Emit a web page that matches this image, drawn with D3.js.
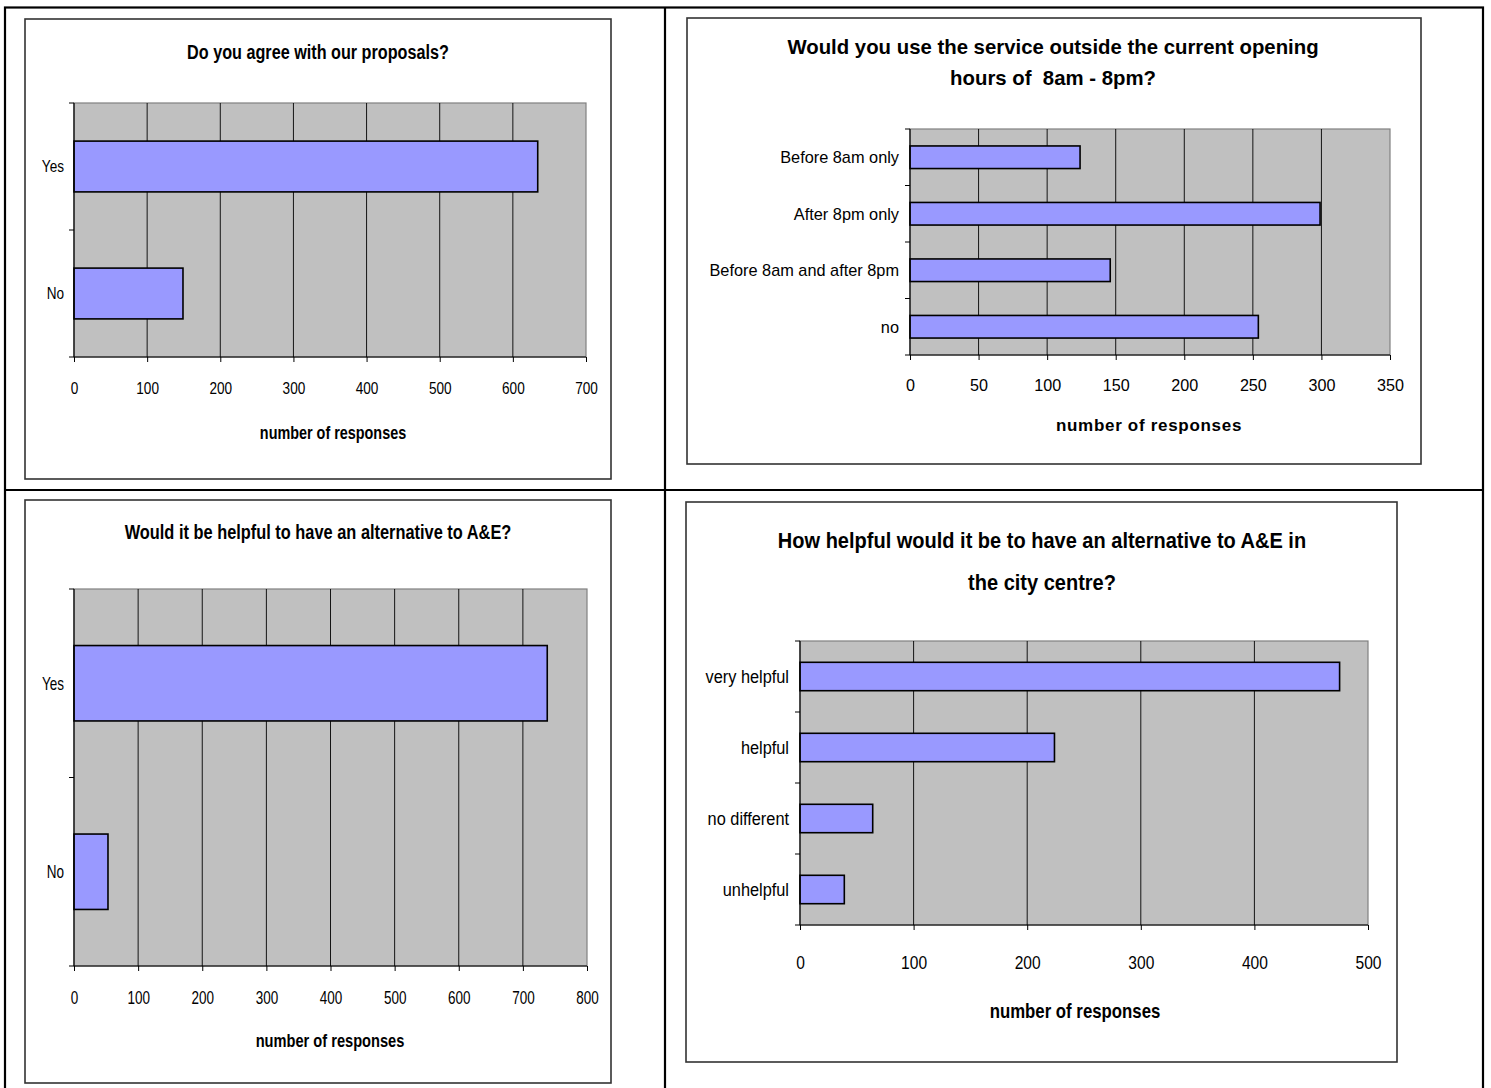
<!DOCTYPE html>
<html>
<head>
<meta charset="utf-8">
<script src="https://cdn.jsdelivr.net/npm/d3@7"></script>
<style>
  html, body { margin: 0; padding: 0; background: #fff; }
  svg text { font-family: "Liberation Sans", Arial, Helvetica, sans-serif; fill: #000; white-space: pre; }
</style>
</head>
<body>
<svg id="page" width="1491" height="1088"></svg>
<script>
// Survey results: number of responses per answer
const proposalCats = ["Yes", "No"];
const proposalVals = [634, 149];
const proposalTicks = [0, 100, 200, 300, 400, 500, 600, 700];

const hoursCats = ["Before 8am only", "After 8pm only", "Before 8am and after 8pm", "no"];
const hoursVals = [124, 299, 146, 254];
const hoursTicks = [0, 50, 100, 150, 200, 250, 300, 350];

const altCats = ["Yes", "No"];
const altVals = [738, 53];
const altTicks = [0, 100, 200, 300, 400, 500, 600, 700, 800];

const helpCats = ["very helpful", "helpful", "no different", "unhelpful"];
const helpVals = [475, 224, 64, 39];
const helpTicks = [0, 100, 200, 300, 400, 500];

const axisTitle = "number of responses";

const svg = d3.select("#page");

// Table grid holding the four charts
const grid = svg.append("g").attr("fill", "none").attr("stroke", "#000").attr("stroke-width", 2.2);
grid.append("rect").attr("x", 5).attr("y", 7.5).attr("width", 1478).attr("height", 1086);
grid.append("line").attr("x1", 665).attr("x2", 665).attr("y1", 7.5).attr("y2", 1090);
grid.append("line").attr("x1", 5).attr("x2", 1483).attr("y1", 490).attr("y2", 490);

// text with its own horizontal compression (charts were resized unevenly)
function label(parent, txt, x, y, o) {
  return parent.append("text")
    .attr("transform", `translate(${x},${y}) scale(${o.sx},1)`)
    .attr("dy", "0.35em")
    .attr("text-anchor", o.anchor || "middle")
    .attr("font-size", o.size)
    .attr("font-weight", o.bold ? "bold" : "normal")
    .attr("letter-spacing", o.spacing || 0)
    .text(txt);
}

function drawChart(cfg) {
  const g = svg.append("g");

  // chart frame
  g.append("rect")
    .attr("x", cfg.frame[0]).attr("y", cfg.frame[1])
    .attr("width", cfg.frame[2] - cfg.frame[0]).attr("height", cfg.frame[3] - cfg.frame[1])
    .attr("fill", "#fff").attr("stroke", "#333").attr("stroke-width", 1.6);

  const [px0, py0, px1, py1] = cfg.plot;
  const x = d3.scaleLinear().domain([0, d3.max(cfg.ticks)]).range([px0, px1]);
  const y = d3.scaleBand().domain(cfg.cats).range([py0, py1]).paddingInner(0.6).paddingOuter(0.3);

  // plot area
  g.append("rect")
    .attr("x", px0).attr("y", py0).attr("width", px1 - px0).attr("height", py1 - py0)
    .attr("fill", "#c0c0c0").attr("stroke", "#808080").attr("stroke-width", 1.2);

  // vertical gridlines
  g.append("g").selectAll("line").data(cfg.ticks.slice(1, -1)).join("line")
    .attr("x1", d => x(d)).attr("x2", d => x(d))
    .attr("y1", py0).attr("y2", py1)
    .attr("stroke", "#000").attr("stroke-width", 0.9);

  // bars
  g.append("g").selectAll("rect").data(cfg.vals).join("rect")
    .attr("x", x(0))
    .attr("y", (d, i) => y(cfg.cats[i]))
    .attr("width", d => x(d) - x(0))
    .attr("height", y.bandwidth())
    .attr("fill", "#9999ff").attr("stroke", "#000").attr("stroke-width", 1.6);

  // value axis
  const xAxis = d3.axisBottom(x).tickValues(cfg.ticks).tickSize(5).tickFormat(d3.format("d"));
  const xa = g.append("g").attr("transform", `translate(0,${py1})`).call(xAxis);
  xa.attr("font-family", null).attr("font-size", null);
  xa.select(".domain").attr("stroke", "#000").attr("stroke-width", 1.2).attr("d", `M${px0},0H${px1}`);
  xa.selectAll(".tick line").attr("stroke", "#000");
  xa.selectAll(".tick text")
    .attr("y", null).attr("dy", "0.35em")
    .attr("transform", `translate(0,${cfg.tickY - py1}) scale(${cfg.tickSx},1)`)
    .attr("font-size", cfg.tickSize);

  // category axis with tick marks between categories
  const yl = g.append("g");
  yl.append("line").attr("x1", px0).attr("x2", px0).attr("y1", py0).attr("y2", py1)
    .attr("stroke", "#000").attr("stroke-width", 1.2);
  const step = y.step();
  yl.selectAll("line.tk").data(d3.range(cfg.cats.length + 1)).join("line").attr("class", "tk")
    .attr("x1", px0 - 5).attr("x2", px0)
    .attr("y1", i => py0 + i * step).attr("y2", i => py0 + i * step)
    .attr("stroke", "#000").attr("stroke-width", 1);
  cfg.cats.forEach(c => label(g, c, px0 - cfg.labelGap, y(c) + y.bandwidth() / 2,
    { sx: cfg.catSx, size: cfg.catSize, anchor: "end" }));

  // title
  cfg.title.forEach((t, i) => label(g, t, cfg.titleX, cfg.titleY + i * cfg.titleLead,
    { sx: cfg.titleSx, size: cfg.titleSize, bold: true }));

  // value axis title
  label(g, axisTitle, cfg.axisX, cfg.axisY,
    { sx: cfg.axisSx, size: cfg.axisSize, bold: true, spacing: cfg.axisSpacing });
}

drawChart({
  frame: [25, 19, 611, 479], plot: [74, 103, 586, 357],
  cats: proposalCats, vals: proposalVals, ticks: proposalTicks,
  title: ["Do you agree with our proposals?"], titleX: 318, titleY: 52, titleLead: 0, titleSize: 20, titleSx: 0.81,
  tickSize: 17, tickSx: 0.8, tickY: 388,
  catSize: 17, catSx: 0.8, labelGap: 10,
  axisX: 333, axisY: 433, axisSize: 18, axisSx: 0.8
});

drawChart({
  frame: [687, 18, 1421, 464], plot: [910, 129, 1390, 355],
  cats: hoursCats, vals: hoursVals, ticks: hoursTicks,
  title: ["Would you use the service outside the current opening", "hours of  8am - 8pm?"],
  titleX: 1053, titleY: 47, titleLead: 31, titleSize: 21, titleSx: 0.97,
  tickSize: 17, tickSx: 0.95, tickY: 385,
  catSize: 17, catSx: 0.96, labelGap: 11,
  axisX: 1149, axisY: 425, axisSize: 17, axisSx: 1, axisSpacing: 0.7
});

drawChart({
  frame: [25, 500, 611, 1083], plot: [74, 589, 587, 966],
  cats: altCats, vals: altVals, ticks: altTicks,
  title: ["Would it be helpful to have an alternative to A&E?"], titleX: 318, titleY: 532, titleLead: 0, titleSize: 21, titleSx: 0.78,
  tickSize: 18, tickSx: 0.75, tickY: 998,
  catSize: 18, catSx: 0.75, labelGap: 10,
  axisX: 330, axisY: 1040, axisSize: 19, axisSx: 0.77
});

drawChart({
  frame: [686, 502, 1397, 1062], plot: [800, 641, 1368, 925],
  cats: helpCats, vals: helpVals, ticks: helpTicks,
  title: ["How helpful would it be to have an alternative to A&E in", "the city centre?"],
  titleX: 1042, titleY: 540, titleLead: 42, titleSize: 22, titleSx: 0.91,
  tickSize: 19, tickSx: 0.82, tickY: 962,
  catSize: 19, catSx: 0.86, labelGap: 11,
  axisX: 1075, axisY: 1011, axisSize: 20, axisSx: 0.84
});
</script>
</body>
</html>
